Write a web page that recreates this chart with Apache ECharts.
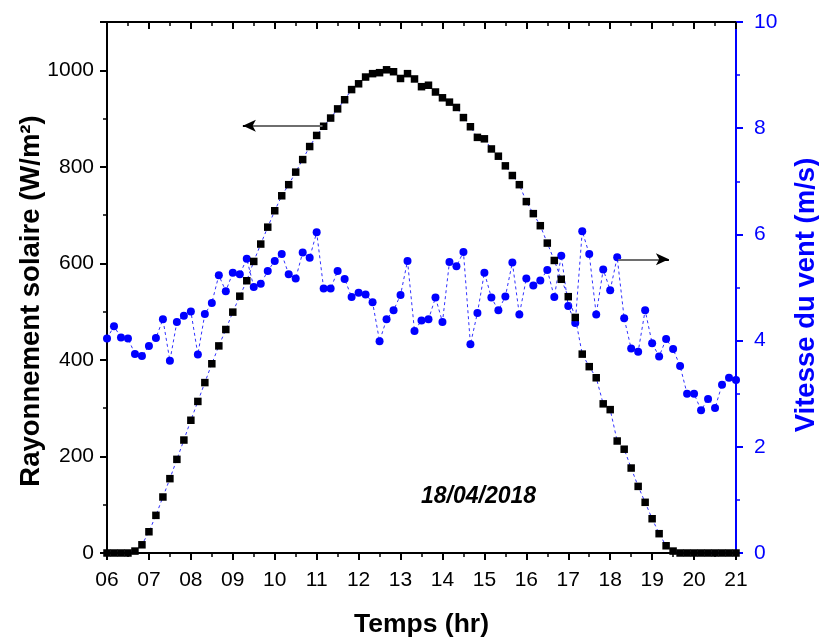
<!DOCTYPE html>
<html>
<head>
<meta charset="utf-8">
<title>Rayonnement solaire et vitesse du vent</title>
<script src="https://cdn.jsdelivr.net/npm/echarts@6/dist/echarts.min.js"></script>
<style>
  html, body { margin: 0; padding: 0; background: #fff; }
  #chart { width: 819px; height: 638px; }
</style>
</head>
<body>
<div id="chart"></div>
<script>
// Sampling times (every 10 minutes)
const times = [
  '06:00','06:10','06:20','06:30','06:40','06:50',
  '07:00','07:10','07:20','07:30','07:40','07:50',
  '08:00','08:10','08:20','08:30','08:40','08:50',
  '09:00','09:10','09:20','09:30','09:40','09:50',
  '10:00','10:10','10:20','10:30','10:40','10:50',
  '11:00','11:10','11:20','11:30','11:40','11:50',
  '12:00','12:10','12:20','12:30','12:40','12:50',
  '13:00','13:10','13:20','13:30','13:40','13:50',
  '14:00','14:10','14:20','14:30','14:40','14:50',
  '15:00','15:10','15:20','15:30','15:40','15:50',
  '16:00','16:10','16:20','16:30','16:40','16:50',
  '17:00','17:10','17:20','17:30','17:40','17:50',
  '18:00','18:10','18:20','18:30','18:40','18:50',
  '19:00','19:10','19:20','19:30','19:40','19:50',
  '20:00','20:10','20:20','20:30','20:40','20:50',
  '21:00'
];

// Solar irradiance, W/m²
const irradiance = [
  0, 0, 0, 0, 4, 17,
  44, 78, 116, 154, 194, 234,
  275, 314, 353, 392, 429, 463,
  499, 532, 564, 604, 640, 675,
  709, 740, 763, 789, 815, 842,
  865, 884, 901, 920, 939, 960,
  972, 986, 993, 995, 1001, 997,
  983, 993, 982, 966, 969, 955,
  943, 934, 923, 902, 883, 861,
  858, 837, 822, 802, 782, 763,
  728, 703, 678, 642, 606, 567,
  531, 488, 412, 386, 363, 309,
  297, 232, 215, 176, 138, 105,
  71, 40, 15, 4, 0, 0,
  0, 0, 0, 0, 0, 0,
  0
];

// Wind speed, m/s
const windSpeed = [
  4.04, 4.27, 4.06, 4.04, 3.75, 3.71,
  3.90, 4.05, 4.40, 3.62, 4.35, 4.47,
  4.55, 3.74, 4.50, 4.71, 5.23, 4.93,
  5.28, 5.25, 5.54, 5.01, 5.07, 5.31,
  5.50, 5.63, 5.25, 5.17, 5.66, 5.56,
  6.04, 4.98, 4.98, 5.31, 5.16, 4.82,
  4.90, 4.87, 4.72, 3.99, 4.40, 4.57,
  4.86, 5.50, 4.18, 4.38, 4.40, 4.81,
  4.35, 5.48, 5.40, 5.67, 3.93, 4.52,
  5.28, 4.81, 4.57, 4.83, 5.47, 4.49,
  5.17, 5.04, 5.13, 5.33, 4.82, 5.60,
  4.65, 4.33, 6.06, 5.63, 4.49, 5.34,
  4.95, 5.57, 4.42, 3.85, 3.79, 4.57,
  3.95, 3.70, 4.03, 3.84, 3.52, 3.00,
  3.00, 2.69, 2.90, 2.73, 3.17, 3.30,
  3.26
];

// Hour ticks on the time axis
const hourTicks = ['06','07','08','09','10','11','12','13','14','15','16','17','18','19','20','21'];

// Arrow annotations: [from, to] in data units
const solarArrow = [[11.14, 885], [9.24, 885]];
const windArrow = [[18.19, 5.53], [19.40, 5.53]];

const dateLabel = '18/04/2018';
const leftTitle = 'Rayonnement solaire (W/m²)';
const rightTitle = 'Vitesse du vent (m/s)';
const bottomTitle = 'Temps (hr)';

function toHours(s) {
  const [h, m] = s.split(':').map(Number);
  return h + m / 60;
}
const hours = times.map(toHours);
const solarData = hours.map((h, i) => [h, irradiance[i]]);
const windData = hours.map((h, i) => [h, windSpeed[i]]);

// Gray shaft + short black head for an arrow
function arrowLines(a) {
  const [p0, p1] = a;
  const headStart = [p1[0] + (p0[0] - p1[0]) * 0.12, p1[1]];
  return [
    [
      { coord: p0, symbol: 'none', lineStyle: { color: '#6e6e6e', width: 2, type: 'solid' } },
      { coord: headStart, symbol: 'none' }
    ],
    [
      { coord: headStart, symbol: 'none', lineStyle: { color: '#000', width: 2, type: 'solid' } },
      { coord: p1, symbol: 'arrow', symbolSize: [9, 13] }
    ]
  ];
}

const FONT = 'Liberation Sans, Arial, sans-serif';
const BLUE = '#0000ff';

const chart = echarts.init(document.getElementById('chart'), null, { renderer: 'canvas' });

const xCommon = {
  type: 'value', min: 6, max: 21, interval: 1,
  splitLine: { show: false },
  axisLine: { show: true, onZero: false, lineStyle: { color: '#000', width: 2 } },
  minorTick: { show: true, splitNumber: 2, length: 4, lineStyle: { color: '#000', width: 1.5 } }
};

chart.setOption({
  animation: false,
  textStyle: { fontFamily: FONT },
  grid: { left: 107, right: 83, top: 22, bottom: 85, containLabel: false, outerBoundsMode: 'none' },
  xAxis: [
    Object.assign({}, xCommon, {
      position: 'bottom',
      axisTick: { show: true, length: 7, lineStyle: { color: '#000', width: 2 } },
      axisLabel: {
        color: '#000', fontSize: 21, margin: 17, fontFamily: FONT,
        formatter: v => hourTicks[Math.round(v) - 6]
      },
      name: bottomTitle, nameLocation: 'middle', nameGap: 58,
      nameTextStyle: { color: '#000', fontSize: 26.5, fontWeight: 'bold', fontFamily: FONT }
    }),
    Object.assign({}, xCommon, {
      position: 'top',
      axisTick: { show: true, inside: true, length: 7, lineStyle: { color: '#000', width: 2 } },
      axisLabel: { show: false }
    })
  ],
  yAxis: [
    {
      type: 'value', min: 0, max: 1100, interval: 200, position: 'left',
      splitLine: { show: false },
      axisLine: { show: true, lineStyle: { color: '#000', width: 2 } },
      axisTick: { show: true, length: 7, lineStyle: { color: '#000', width: 2 } },
      minorTick: { show: true, splitNumber: 2, length: 4, lineStyle: { color: '#000', width: 1.5 } },
      axisLabel: {
        color: '#000', fontSize: 21, margin: 13, fontFamily: FONT, showMaxLabel: false,
        formatter: v => String(v)
      }
    },
    {
      type: 'value', min: 0, max: 10, interval: 2, position: 'right',
      splitLine: { show: false },
      axisLine: { show: true, lineStyle: { color: BLUE, width: 2 } },
      axisTick: { show: true, length: 7, lineStyle: { color: BLUE, width: 2 } },
      minorTick: { show: true, splitNumber: 2, length: 4, lineStyle: { color: BLUE, width: 1.5 } },
      axisLabel: { color: BLUE, fontSize: 21, margin: 18, fontFamily: FONT }
    }
  ],
  series: [
    {
      name: 'Vitesse du vent',
      type: 'line', xAxisIndex: 0, yAxisIndex: 1,
      data: windData,
      symbol: 'circle', symbolSize: 8,
      itemStyle: { color: BLUE },
      lineStyle: { color: '#3030ff', width: 1, type: [3, 3] },
      z: 2,
      markLine: {
        silent: true, animation: false,
        label: { show: false },
        symbol: ['none', 'none'],
        data: arrowLines(windArrow)
      }
    },
    {
      name: 'Rayonnement solaire',
      type: 'line', xAxisIndex: 0, yAxisIndex: 0,
      data: solarData,
      symbol: 'rect', symbolSize: 7.5,
      itemStyle: { color: '#000' },
      lineStyle: { color: '#3030ff', width: 1, type: [3, 3] },
      z: 3,
      markLine: {
        silent: true, animation: false,
        label: { show: false },
        symbol: ['none', 'none'],
        data: arrowLines(solarArrow)
      }
    }
  ],
  graphic: [
    {
      type: 'text', left: 421, top: 485,
      style: {
        text: dateLabel, fill: '#000',
        font: 'italic bold 23px ' + FONT
      }
    },
    {
      type: 'text', x: 31, y: 301, rotation: Math.PI / 2,
      style: {
        text: leftTitle, fill: '#000', align: 'center', verticalAlign: 'middle',
        font: 'bold 27.5px ' + FONT
      }
    },
    {
      type: 'text', x: 806, y: 295, rotation: Math.PI / 2,
      style: {
        text: rightTitle, fill: BLUE, align: 'center', verticalAlign: 'middle',
        font: 'bold 27.5px ' + FONT
      }
    }
  ]
});
</script>
</body>
</html>
